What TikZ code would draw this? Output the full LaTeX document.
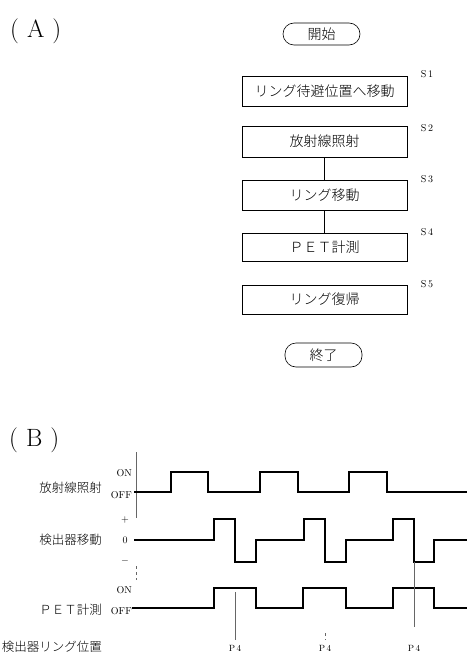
\documentclass[tikz,border=0pt]{standalone}
\usepackage{fontspec}
\newfontfamily\jp{Noto Sans CJK JP Light}
\begin{document}
\begin{tikzpicture}[x=1pt,y=-1pt,
  box/.style={draw, line width=0.6pt, minimum width=165pt, inner sep=0pt, font=\jp\fontsize{14}{14}\selectfont},
  term/.style={draw, line width=0.6pt, rounded corners=11pt, minimum width=77pt, inner sep=0pt, font=\jp\fontsize{14}{14}\selectfont},
  steplab/.style={font=\fontsize{10}{10}\selectfont},
  conn/.style={line width=0.6pt},
  rowlab/.style={anchor=east, inner sep=0pt, font=\jp\fontsize{12.5}{12.5}\selectfont},
  lvl/.style={anchor=east, inner sep=0pt, font=\fontsize{10}{10}\selectfont},
  lvlc/.style={inner sep=0pt, font=\fontsize{10}{10}\selectfont},
  wave/.style={line width=2.2pt, line join=miter},
  plab/.style={inner sep=1pt, font=\fontsize{9}{9}\selectfont},
  thin/.style={line width=0.6pt, black!60},
  big/.style={anchor=west, inner sep=0pt, font=\fontsize{25}{25}\selectfont}]
\useasboundingbox (0,0) rectangle (466,661);
\fill[white] (0,0) rectangle (466,661);

% (A) flowchart
\node[big] (labA) at (10,31) {(\kern8pt A\kern8pt)};
\node[term, minimum height=22pt] (start) at (321.5,34) {開始};
\node[box, minimum height=30pt] (s1) at (324.5,91) {リング待避位置へ移動};
\node[box, minimum height=31pt] (s2) at (324.5,141.5) {放射線照射};
\node[box, minimum height=30pt] (s3) at (324.5,195) {リング移動};
\node[box, minimum height=28pt] (s4) at (324.5,247) {ＰＥＴ計測};
\node[box, minimum height=29pt] (s5) at (324.5,299.5) {リング復帰};
\node[term, minimum height=24pt] (stop) at (323.5,355) {終了};
\node[steplab] (l1) at (427,74) {S\,1};
\node[steplab] (l2) at (427,128) {S\,2};
\node[steplab] (l3) at (427,179) {S\,3};
\node[steplab] (l4) at (427,232) {S\,4};
\node[steplab] (l5) at (427,284) {S\,5};
\draw[conn] (s2.south) -- (s3.north);
\draw[conn] (s3.south) -- (s4.north);

% (B) timing chart
\node[big] (labB) at (9,440) {(\kern8pt B\kern8pt)};
\coordinate (ax1) at (136,452);
\coordinate (ax2) at (136,518);
\coordinate (ax3) at (136,566);
\coordinate (ax4) at (136,580);
\draw[thin] (ax1) -- (ax2);
\draw[thin, dashed] (ax3) -- (ax4);

\node[rowlab] (r1) at (102,488) {放射線照射};
\node[rowlab] (r2) at (102,540) {検出器移動};
\node[rowlab] (r3) at (102,610) {ＰＥＴ計測};
\node[rowlab] (r4) at (102,647) {検出器リング位置};

\node[lvl] (on1) at (132,473) {ON};
\node[lvl] (off1) at (132,495) {OFF};
\node[lvlc] (plus) at (125,520) {+};
\node[lvlc] (zero) at (125,540) {0};
\node[lvlc] (minus) at (125,561) {$-$};
\node[lvl] (on3) at (132,590) {ON};
\node[lvl] (off3) at (132,611) {OFF};

\draw[wave] (134,492) -- (171,492) -- (171,472) -- (208,472) -- (208,492) -- (260,492) -- (260,472) -- (298,472) -- (298,492) -- (349,492) -- (349,472) -- (387,472) -- (387,492) -- (467,492);
\draw[wave] (134,540) -- (214,540) -- (214,519) -- (235,519) -- (235,562) -- (256,562) -- (256,540) -- (304,540) -- (304,519) -- (325,519) -- (325,562) -- (346,562) -- (346,540) -- (393,540) -- (393,519) -- (414,519) -- (414,562) -- (434,562) -- (434,540) -- (467,540);
\draw[wave] (132,608) -- (214,608) -- (214,588) -- (256,588) -- (256,608) -- (303,608) -- (303,588) -- (346,588) -- (346,608) -- (393,608) -- (393,588) -- (434,588) -- (434,608) -- (467,608);

\node[plab] (p1) at (235,648) {P\,4};
\node[plab] (p2) at (325,648) {P\,4};
\node[plab] (p3) at (414,648) {P\,4};
\coordinate (t1) at (235,592);
\coordinate (b1) at (235,640);
\coordinate (t2) at (325,633);
\coordinate (b2) at (325,640);
\coordinate (t3) at (414,562);
\coordinate (b3) at (414,627);
\draw[thin] (t1) -- (b1);
\draw[thin, dashed] (t2) -- (b2);
\draw[thin] (t3) -- (b3);
\end{tikzpicture}
\end{document}
